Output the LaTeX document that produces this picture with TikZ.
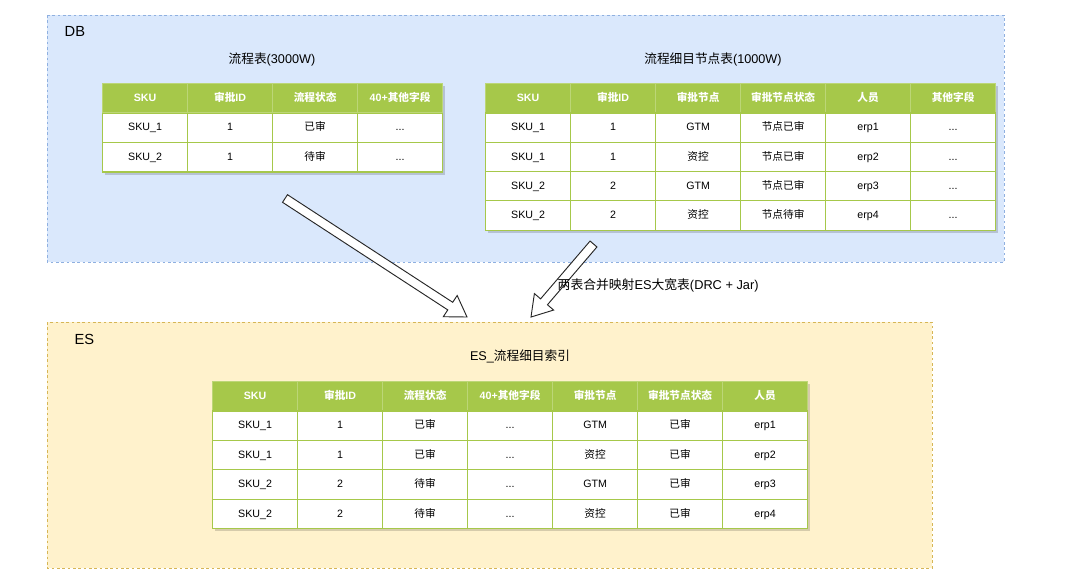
\documentclass[tikz,border=0pt]{standalone}
\usepackage{fontspec}
\setmainfont{Liberation Sans}
\newfontfamily\cjkfam{Noto Sans CJK SC}
\XeTeXinterchartokenstate=1
\newXeTeXintercharclass\mycjk
\newcount\mycnt
\mycnt="4E00
\loop
  \XeTeXcharclass\mycnt=\mycjk
  \advance\mycnt by 1
\ifnum\mycnt<"A000 \repeat
\XeTeXinterchartoks 0 \mycjk = {\cjkfam}
\XeTeXinterchartoks 4095 \mycjk = {\cjkfam}
\XeTeXinterchartoks \mycjk 0 = {\rmfamily}
\XeTeXinterchartoks \mycjk 4095 = {\rmfamily}
\usetikzlibrary{calc}
\definecolor{dbfill}{HTML}{DAE8FC}
\definecolor{dbdraw}{HTML}{8FB0E0}
\definecolor{esfill}{HTML}{FFF2CC}
\definecolor{esdraw}{HTML}{D6B656}
\definecolor{tgreen}{HTML}{A6C84A}
\newcommand\dd{...}
\newcommand\blockarr[3]{%
  \coordinate (#1t) at #2;
  \coordinate (#1h) at #3;
  \coordinate (#1b) at ($(#1h)!15pt!(#1t)$);
  \draw[barrow] ($(#1t)!3.4pt!90:(#1h)$) -- ($(#1b)!3.4pt!90:(#1h)$) -- ($(#1b)!9.5pt!90:(#1h)$)
    -- (#1h) -- ($(#1b)!9.5pt!-90:(#1h)$) -- ($(#1b)!3.4pt!-90:(#1h)$) -- ($(#1t)!3.4pt!-90:(#1h)$) -- cycle;
}
\begin{document}
\begin{tikzpicture}[x=0.75pt,y=-0.75pt,
  cell/.style={draw=tgreen, line width=0.9pt, fill=white, minimum width=63.75pt, minimum height=22.1pt,
    inner sep=0pt, text height=6.2pt, text depth=1.6pt, anchor=north west, font=\fontsize{8}{9}\selectfont},
  hcell/.style={cell, fill=tgreen, draw=tgreen!75!white, text=white, font=\fontsize{8}{9}\selectfont\bfseries},
  tshadow/.style={fill=black, opacity=0.16},
  grp/.style={line width=0.75pt, dash pattern=on 2pt off 2pt},
  grplabel/.style={anchor=west, font=\fontsize{11}{13}\selectfont},
  title/.style={font=\fontsize{9.5}{11}\selectfont, text height=7.5pt, text depth=2pt},
  barrow/.style={draw=black!85, line width=0.7pt, fill=white, line join=miter}
]
\useasboundingbox (0,0) rectangle (1080,576);

% group boxes
\draw[grp, draw=dbdraw, fill=dbfill] (47,15) rectangle (1004,262);
\node[grplabel] (dblbl) at (60,31) {DB};
\draw[grp, draw=esdraw, fill=esfill] (47,322) rectangle (932,568);
\node[grplabel] (eslbl) at (70,339) {ES};

% titles
\node[title] (t1title) at (272,60) {流程表(3000W)};
\node[title] (t2title) at (713,60) {流程细目节点表(1000W)};
\node[title] (t3title) at (520,357) {ES\_流程细目索引};

% table 1
\fill[tshadow] (105,86) rectangle (445,174.5);
\foreach \row [count=\r from 0] in {{SKU,审批ID,流程状态,40+其他字段},{SKU\_1,1,已审,\dd},{SKU\_2,1,待审,\dd}}{
  \foreach \txt [count=\c from 0] in \row {
    \ifnum\r=0
      \node[hcell] (ta-\r-\c) at ({102+85*\c},{83+29.5*\r}) {\txt};
    \else
      \node[cell] (ta-\r-\c) at ({102+85*\c},{83+29.5*\r}) {\txt};
    \fi
  }
}

% table 2
\fill[tshadow] (488,86) rectangle (998,232.5);
\foreach \row [count=\r from 0] in {{SKU,审批ID,审批节点,审批节点状态,人员,其他字段},
  {SKU\_1,1,GTM,节点已审,erp1,\dd},{SKU\_1,1,资控,节点已审,erp2,\dd},
  {SKU\_2,2,GTM,节点已审,erp3,\dd},{SKU\_2,2,资控,节点待审,erp4,\dd}}{
  \foreach \txt [count=\c from 0] in \row {
    \ifnum\r=0
      \node[hcell] (tb-\r-\c) at ({485+85*\c},{83+29.3*\r}) {\txt};
    \else
      \node[cell] (tb-\r-\c) at ({485+85*\c},{83+29.3*\r}) {\txt};
    \fi
  }
}

% table 3
\fill[tshadow] (215,384) rectangle (810,530.5);
\foreach \row [count=\r from 0] in {{SKU,审批ID,流程状态,40+其他字段,审批节点,审批节点状态,人员},
  {SKU\_1,1,已审,\dd,GTM,已审,erp1},{SKU\_1,1,已审,\dd,资控,已审,erp2},
  {SKU\_2,2,待审,\dd,GTM,已审,erp3},{SKU\_2,2,待审,\dd,资控,已审,erp4}}{
  \foreach \txt [count=\c from 0] in \row {
    \ifnum\r=0
      \node[hcell] (tc-\r-\c) at ({212+85*\c},{381+29.4*\r}) {\txt};
    \else
      \node[cell] (tc-\r-\c) at ({212+85*\c},{381+29.4*\r}) {\txt};
    \fi
  }
}

% block arrows
\blockarr{aa}{(285,198.5)}{(467,317)}
\blockarr{ab}{(593.5,244)}{(531,317)}
\node[anchor=west, font=\fontsize{9.6}{11}\selectfont] (arrlbl) at (553,285) {两表合并映射ES大宽表(DRC + Jar)};
\end{tikzpicture}
\end{document}
